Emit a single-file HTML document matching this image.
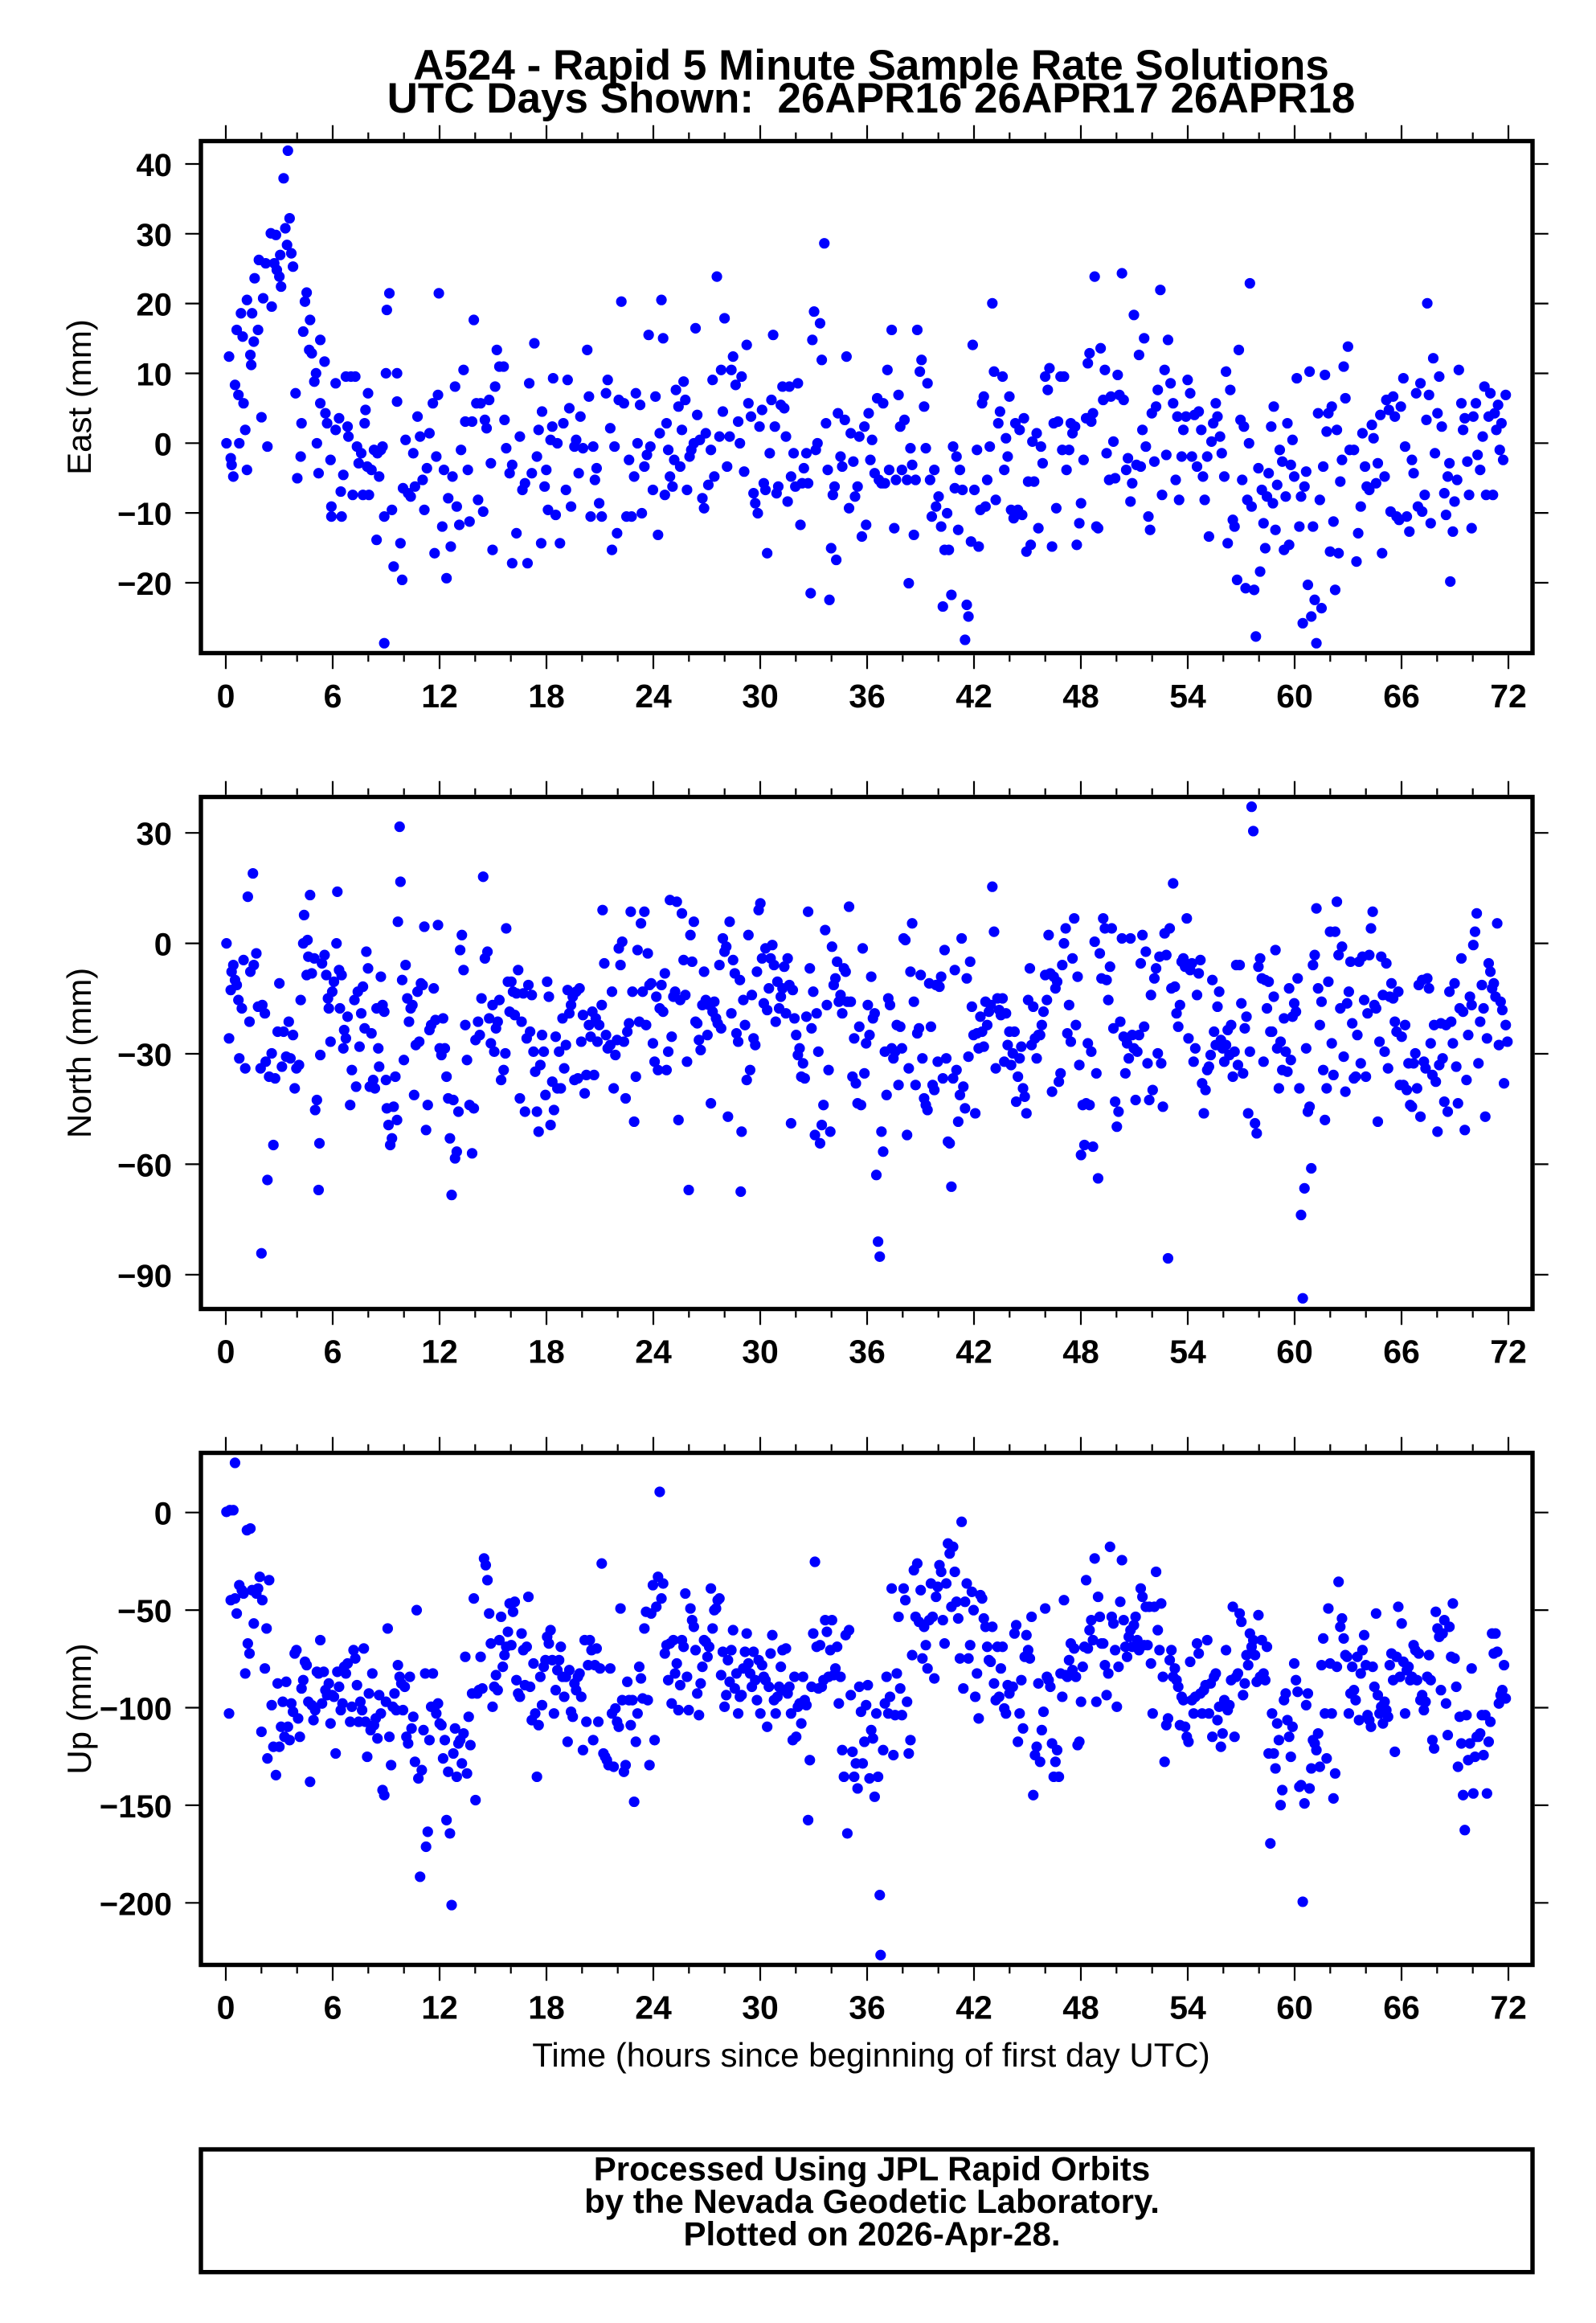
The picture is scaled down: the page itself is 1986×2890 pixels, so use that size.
<!DOCTYPE html>
<html><head><meta charset="utf-8"><style>
html,body{margin:0;padding:0;background:#fff;}
svg{display:block;}
text{font-family:"Liberation Sans",Arial,Helvetica,sans-serif;fill:#000;}
.b{font-weight:bold;}
</style></head><body>
<svg xmlns="http://www.w3.org/2000/svg" width="1986" height="2890" viewBox="0 0 1986 2890">
<rect width="1986" height="2890" fill="#fff"/>
<defs>
<path id="xt" fill="none" stroke="#000" stroke-width="2.2" d="M281 0v17M414 0v17M547 0v17M680 0v17M813 0v17M946 0v17M1079 0v17M1212 0v17M1345 0v17M1478 0v17M1611 0v17M1744 0v17M1877 0v17M325.3 0v8M369.7 0v8M458.3 0v8M502.7 0v8M591.3 0v8M635.7 0v8M724.3 0v8M768.7 0v8M857.3 0v8M901.7 0v8M990.3 0v8M1034.7 0v8M1123.3 0v8M1167.7 0v8M1256.3 0v8M1300.7 0v8M1389.3 0v8M1433.7 0v8M1522.3 0v8M1566.7 0v8M1655.3 0v8M1699.7 0v8M1788.3 0v8M1832.7 0v8"/>
</defs>

<!-- Title -->
<text class="b" x="1084" y="99" font-size="53" text-anchor="middle">A524 - Rapid 5 Minute Sample Rate Solutions</text>
<text class="b" x="1084" y="140" font-size="53" text-anchor="middle" style="white-space:pre">UTC Days Shown:  26APR16 26APR17 26APR18</text>

<!-- ===== Panel 1: East ===== -->
<path fill="none" stroke="#0000ff" stroke-width="13.2" stroke-linecap="round" vector-effect="non-scaling-stroke" transform="translate(250,170) scale(1.06123,0.41459)" d="M30 920h0M35 965h0M36 985h0M38 1020h0M33 660h0M40 745h0M44 775h0M45 920h0M50 800h0M52 880h0M54 1000h0M42 580h0M47 530h0M49 600h0M54 490h0M58 655h0M59 685h0M62 615h0M60 530h0M63 425h0M67 580h0M68 370h0M71 842h0M73 485h0M76 380h0M78 930h0M82 290h0M83 510h0M86 380h0M88 295h0M89 400h0M92 420h0M94 450h0M93 355h0M97 125h0M99 275h0M102 42h0M104 245h0M101 325h0M106 350h0M108 390h0M111 770h0M113 1025h0M117 960h0M118 860h0M120 585h0M122 495h0M124 468h0M128 550h0M127 640h0M130 650h0M133 735h0M135 710h0M136 920h0M138 1010h0M140 610h0M140 800h0M145 675h0M146 830h0M148 860h0M152 970h0M153 1110h0M153 1140h0M158 880h0M158 740h0M162 845h0M164 1065h0M165 1140h0M167 1015h0M170 720h0M172 870h0M173 900h0M176 720h0M178 1075h0M181 720h0M183 930h0M185 980h0M188 950h0M190 1075h0M192 860h0M193 820h0M195 990h0M196 770h0M197 1075h0M200 1000h0M203 940h0M206 1210h0M207 950h0M209 1020h0M211 940h0M213 930h0M215 1140h0M215 1520h0M217 710h0M218 520h0M221 470h0M224 1120h0M226 1290h0M230 710h0M230 795h0M234 1220h0M236 1330h0M237 1055h0M240 910h0M243 1070h0M246 1080h0M249 950h0M251 1050h0M254 840h0M257 900h0M260 1030h0M262 1120h0M265 995h0M268 890h0M272 800h0M274 1250h0M276 960h0M278 775h0M279 470h0M283 1170h0M285 1000h0M288 1325h0M290 1085h0M293 1230h0M295 1020h0M298 750h0M300 1110h0M303 1165h0M305 940h0M308 700h0M310 855h0M313 1000h0M315 1155h0M318 855h0M320 550h0M323 800h0M325 1090h0M328 800h0M331 1125h0M333 850h0M335 875h0M338 790h0M340 980h0M342 1240h0M345 750h0M347 640h0M350 690h0M355 690h0M356 850h0M358 935h0M362 1010h0M365 985h0M365 1280h0M370 1190h0M374 900h0M377 1060h0M380 1040h0M383 1280h0M385 740h0M388 1010h0M391 620h0M394 960h0M396 880h0M399 1220h0M400 825h0M403 1050h0M405 1000h0M407 1120h0M410 910h0M412 870h0M413 725h0M416 1135h0M418 920h0M421 1220h0M425 860h0M428 1060h0M430 730h0M432 815h0M434 1110h0M438 930h0M440 910h0M443 1010h0M445 840h0M448 935h0M453 640h0M455 780h0M457 1140h0M460 930h0M462 1030h0M464 995h0M467 1100h0M470 1140h0M475 770h0M477 730h0M480 875h0M482 1240h0M485 930h0M488 1190h0M490 790h0M493 495h0M496 800h0M499 1140h0M502 970h0M505 1140h0M508 1020h0M510 770h0M512 920h0M515 805h0M517 1130h0M520 990h0M523 955h0M525 595h0M527 930h0M530 1060h0M533 780h0M536 1195h0M538 890h0M540 490h0M542 605h0M544 1075h0M546 860h0M548 940h0M550 1020h0M553 1050h0M555 970h0M557 760h0M560 810h0M562 990h0M564 880h0M566 735h0M568 790h0M570 1060h0M573 960h0M575 940h0M578 920h0M580 575h0M582 835h0M585 910h0M588 1085h0M590 1115h0M592 890h0M595 1045h0M598 940h0M600 730h0M602 1020h0M605 420h0M608 900h0M610 700h0M612 825h0M614 545h0M617 990h0M620 900h0M622 700h0M624 660h0M627 745h0M630 855h0M632 920h0M634 720h0M637 1005h0M640 625h0M642 800h0M645 840h0M648 1070h0M650 1100h0M653 1130h0M655 870h0M658 820h0M660 1040h0M662 1060h0M664 1250h0M667 950h0M669 790h0M671 595h0M673 870h0M675 1070h0M677 1050h0M680 805h0M682 750h0M684 815h0M686 900h0M688 1095h0M690 750h0M692 1020h0M695 950h0M697 1050h0M700 740h0M703 1165h0M705 1040h0M707 995h0M710 950h0M712 1040h0M715 1370h0M717 610h0M719 525h0M721 940h0M723 920h0M726 560h0M728 670h0M731 320h0M733 860h0M735 1000h0M737 1390h0M739 1235h0M741 1075h0M743 1050h0M745 1270h0M747 830h0M750 960h0M752 990h0M755 850h0M757 660h0M760 1115h0M762 890h0M765 975h0M767 1080h0M770 1050h0M772 900h0M775 1200h0M778 870h0M780 1165h0M783 830h0M785 970h0M787 910h0M790 1010h0M793 785h0M795 1030h0M798 1040h0M800 800h0M802 1040h0M805 700h0M807 1000h0M810 580h0M813 1175h0M815 1030h0M818 775h0M820 870h0M822 1000h0M825 850h0M828 1030h0M830 1340h0M832 935h0M834 985h0M836 1195h0M838 1030h0M840 580h0M843 705h0M845 670h0M848 810h0M850 935h0M852 740h0M855 1030h0M857 1140h0M860 1000h0M862 1110h0M865 1080h0M868 1170h0M870 1410h0M872 1240h0M875 1130h0M877 1240h0M880 1375h0M882 930h0M884 1055h0M886 960h0M888 1180h0M890 1000h0M893 1060h0M896 1510h0M898 1405h0M900 1440h0M903 1215h0M905 625h0M907 1060h0M910 940h0M912 1230h0M914 1120h0M916 800h0M918 780h0M920 1110h0M922 1030h0M925 930h0M928 500h0M930 705h0M932 1090h0M935 860h0M937 825h0M940 720h0M942 1000h0M944 905h0M946 960h0M948 780h0M950 1120h0M953 1145h0M955 860h0M958 1120h0M960 880h0M963 1135h0M965 845h0M968 1245h0M970 1035h0M973 1225h0M975 915h0M977 1035h0M980 890h0M982 1175h0M985 930h0M987 980h0M990 720h0M993 760h0M995 695h0M998 1230h0M1000 860h0M1003 1115h0M1005 855h0M1008 720h0M1010 940h0M1012 720h0M1015 1000h0M1018 940h0M1020 860h0M1022 890h0M1025 870h0M1027 1225h0M1030 1160h0M1032 1100h0M1035 970h0M1038 845h0M1040 680h0M1042 650h0M1044 855h0M1046 830h0M1048 420h0M1050 1170h0M1052 1175h0M1055 635h0M1058 790h0M1060 700h0M1062 950h0M1065 1030h0M1067 780h0M1070 915h0M1072 1025h0M1075 715h0M1077 775h0M1080 410h0M1082 790h0M1085 1000h0M1087 965h0M1090 1095h0M1092 1040h0M1094 535h0M1097 985h0M1100 655h0M1102 990h0M1104 880h0M1106 605h0M1108 930h0M1111 1140h0M1113 1180h0M1115 830h0M1118 975h0M1120 810h0M1122 760h0M1125 460h0M1127 1075h0M1130 700h0M1132 955h0M1134 610h0M1137 740h0M1140 800h0M1143 1030h0M1145 840h0M1147 1090h0M1150 960h0M1152 880h0M1155 840h0M1157 730h0M1160 770h0M1162 960h0M1165 835h0M1168 990h0M1170 825h0M1173 880h0M1175 1020h0M1177 1090h0M1180 960h0M1182 1200h0M1185 915h0M1187 860h0M1190 800h0M1192 840h0M1195 900h0M1197 950h0M1200 1020h0M1202 705h0M1204 1220h0M1207 760h0M1210 1150h0M1212 1170h0M1215 1330h0M1217 640h0M1219 850h0M1221 1030h0M1223 870h0M1225 1355h0M1227 1090h0M1229 920h0M1230 440h0M1232 1110h0M1235 1360h0M1237 1500h0M1240 995h0M1242 1305h0M1244 1060h0M1246 1160h0M1248 1235h0M1250 1080h0M1252 1010h0M1255 870h0M1257 1100h0M1258 810h0M1260 1180h0M1262 1045h0M1265 940h0M1268 975h0M1270 1240h0M1272 1080h0M1274 860h0M1276 1225h0M1278 985h0M1280 910h0M1282 1020h0M1285 725h0M1288 1170h0M1290 1080h0M1292 1460h0M1294 1050h0M1296 1005h0M1298 1345h0M1300 705h0M1302 1440h0M1304 1170h0M1306 1390h0M1308 1520h0M1310 830h0M1312 1090h0M1314 1415h0M1316 990h0M1318 715h0M1320 885h0M1322 830h0M1324 1245h0M1326 810h0M1328 1155h0M1330 1360h0M1332 880h0M1334 1250h0M1336 1035h0M1338 970h0M1340 690h0M1342 785h0M1345 630h0M1347 940h0M1352 940h0M1355 1275h0M1357 1190h0M1360 1110h0M1362 890h0M1365 990h0M1367 1050h0M1370 1060h0M1373 865h0M1375 905h0M1378 1040h0M1380 980h0M1383 835h0M1385 1250h0M1388 1020h0M1390 790h0M1393 820h0M1395 1125h0M1398 780h0M1400 840h0M1402 1140h0M1405 1150h0M1407 810h0M1410 725h0M1412 930h0M1414 1140h0M1417 1185h0M1420 970h0M1422 1010h0M1425 770h0M1427 1110h0M1430 740h0M1432 1125h0M1435 1075h0M1437 850h0M1438 500h0M1440 775h0M1442 1160h0M1445 665h0M1447 950h0M1450 830h0M1452 720h0M1455 870h0M1458 1070h0M1460 1135h0M1462 1020h0M1464 980h0M1465 1335h0M1468 1185h0M1470 1095h0M1473 1030h0M1475 700h0M1478 800h0M1480 880h0M1482 845h0M1485 975h0M1487 1075h0M1490 1175h0M1492 840h0M1495 800h0M1497 955h0M1500 1000h0M1503 900h0M1505 750h0M1507 1075h0M1510 840h0M1512 770h0M1515 1075h0M1517 830h0M1519 880h0M1521 805h0M1523 940h0M1525 860h0M1527 970h0M1530 775h0"/>
<rect x="250" y="175.5" width="1657" height="637" fill="none" stroke="#000" stroke-width="5.4"/>
<use href="#xt" transform="translate(0,815.2)"/>
<use href="#xt" transform="translate(0,172.8) scale(1,-1)"/>
<path fill="none" stroke="#000" stroke-width="2.2" d="M230.5 725h17M1909.7 725h17M230.5 638.1h17M1909.7 638.1h17M230.5 551.3h17M1909.7 551.3h17M230.5 464.5h17M1909.7 464.5h17M230.5 377.6h17M1909.7 377.6h17M230.5 290.8h17M1909.7 290.8h17M230.5 204h17M1909.7 204h17"/>
<g class="b" font-size="40" text-anchor="end">
<text class="b" x="214" y="740">−20</text>
<text class="b" x="214" y="653.1">−10</text>
<text class="b" x="214" y="566.3">0</text>
<text class="b" x="214" y="479.5">10</text>
<text class="b" x="214" y="392.6">20</text>
<text class="b" x="214" y="305.8">30</text>
<text class="b" x="214" y="219">40</text>
</g>
<g font-size="41" text-anchor="middle">
<text class="b" x="281" y="880">0</text><text class="b" x="414" y="880">6</text><text class="b" x="547" y="880">12</text><text class="b" x="680" y="880">18</text><text class="b" x="813" y="880">24</text><text class="b" x="946" y="880">30</text><text class="b" x="1079" y="880">36</text><text class="b" x="1212" y="880">42</text><text class="b" x="1345" y="880">48</text><text class="b" x="1478" y="880">54</text><text class="b" x="1611" y="880">60</text><text class="b" x="1744" y="880">66</text><text class="b" x="1877" y="880">72</text>
</g>
<text transform="translate(113,494) rotate(-90)" font-size="42" text-anchor="middle">East (mm)</text>

<!-- ===== Panel 2: North ===== -->
<path fill="none" stroke="#0000ff" stroke-width="13.2" stroke-linecap="round" vector-effect="non-scaling-stroke" transform="translate(250,985) scale(1.06123,0.41459)" d="M30 455h0M33 740h0M35 595h0M36 540h0M38 520h0M40 565h0M42 580h0M44 625h0M45 800h0M48 650h0M50 505h0M52 830h0M55 315h0M57 690h0M58 540h0M61 245h0M62 520h0M65 485h0M67 645h0M70 830h0M71 1385h0M72 640h0M75 665h0M76 810h0M78 1165h0M80 855h0M83 785h0M85 1060h0M87 860h0M90 720h0M92 575h0M95 825h0M97 720h0M100 795h0M103 690h0M105 800h0M108 730h0M110 890h0M112 830h0M115 820h0M117 625h0M120 455h0M121 370h0M124 550h0M125 445h0M126 495h0M128 310h0M130 545h0M133 500h0M134 955h0M136 925h0M138 1195h0M139 1055h0M140 790h0M142 515h0M145 490h0M147 550h0M149 620h0M150 650h0M152 750h0M154 600h0M156 570h0M160 300h0M159 455h0M162 535h0M163 650h0M165 550h0M167 770h0M168 715h0M170 740h0M172 675h0M175 940h0M177 835h0M180 625h0M182 885h0M184 600h0M186 765h0M188 665h0M190 585h0M192 710h0M194 480h0M196 530h0M198 885h0M200 725h0M202 865h0M204 890h0M206 650h0M208 770h0M209 825h0M211 555h0M213 640h0M215 660h0M217 865h0M218 950h0M220 1000h0M222 1060h0M224 1040h0M226 945h0M228 855h0M230 985h0M231 390h0M233 105h0M234 270h0M236 565h0M238 805h0M240 520h0M242 620h0M244 690h0M246 650h0M248 640h0M250 910h0M252 760h0M254 600h0M256 750h0M258 575h0M260 580h0M262 405h0M264 1015h0M266 940h0M268 715h0M270 700h0M273 590h0M275 685h0M278 400h0M280 770h0M282 790h0M284 680h0M286 770h0M288 855h0M290 920h0M292 1040h0M294 1210h0M296 925h0M298 1100h0M300 1080h0M302 960h0M304 475h0M306 430h0M308 535h0M310 700h0M312 805h0M315 940h0M318 1085h0M320 950h0M322 745h0M325 690h0M327 730h0M329 620h0M331 255h0M333 500h0M336 480h0M338 680h0M340 755h0M342 640h0M344 780h0M346 710h0M348 690h0M350 625h0M352 865h0M355 835h0M357 785h0M358 410h0M360 570h0M362 660h0M364 570h0M366 600h0M368 670h0M370 605h0M372 535h0M374 920h0M376 690h0M378 605h0M380 960h0M382 740h0M384 580h0M386 720h0M388 610h0M390 780h0M392 840h0M394 960h0M396 1020h0M398 820h0M400 730h0M402 780h0M404 910h0M406 570h0M408 615h0M410 1000h0M412 870h0M414 955h0M416 735h0M418 890h0M420 780h0M422 890h0M424 680h0M426 830h0M428 760h0M430 595h0M432 665h0M434 640h0M436 615h0M438 865h0M440 600h0M442 860h0M444 590h0M446 750h0M448 670h0M450 905h0M452 850h0M455 700h0M457 735h0M459 660h0M461 850h0M463 680h0M465 750h0M467 700h0M470 640h0M471 355h0M473 515h0M475 730h0M477 770h0M480 760h0M482 600h0M484 890h0M486 790h0M488 745h0M490 470h0M492 520h0M494 450h0M496 750h0M498 920h0M500 720h0M502 695h0M504 360h0M506 600h0M508 990h0M510 855h0M512 475h0M514 690h0M516 395h0M518 600h0M520 360h0M522 700h0M524 485h0M526 580h0M528 575h0M530 755h0M532 810h0M534 615h0M536 835h0M538 650h0M540 580h0M542 660h0M544 545h0M546 835h0M548 780h0M550 325h0M552 735h0M554 615h0M556 600h0M558 330h0M560 985h0M562 625h0M564 365h0M566 505h0M568 610h0M570 810h0M572 1195h0M574 430h0M576 510h0M578 390h0M580 690h0M582 695h0M584 745h0M586 775h0M588 640h0M590 540h0M592 625h0M594 730h0M596 640h0M598 935h0M600 660h0M602 630h0M604 680h0M606 695h0M608 520h0M610 710h0M612 440h0M614 480h0M616 465h0M618 975h0M620 390h0M622 665h0M624 505h0M626 545h0M628 725h0M630 750h0M632 565h0M633 1200h0M634 1020h0M636 625h0M638 700h0M640 865h0M642 430h0M644 835h0M646 610h0M648 740h0M650 760h0M652 540h0M654 355h0M656 335h0M658 500h0M660 635h0M662 470h0M664 655h0M666 590h0M668 500h0M670 460h0M672 520h0M674 690h0M676 570h0M678 650h0M680 615h0M682 590h0M684 525h0M686 665h0M688 500h0M690 580h0M692 995h0M694 595h0M696 680h0M698 730h0M700 790h0M702 770h0M704 855h0M706 815h0M708 860h0M710 675h0M712 360h0M714 530h0M716 710h0M718 600h0M720 1030h0M722 665h0M724 780h0M726 1055h0M728 1000h0M730 940h0M732 415h0M734 640h0M736 835h0M738 1020h0M740 465h0M742 580h0M744 560h0M746 510h0M748 630h0M750 610h0M752 665h0M754 530h0M756 540h0M758 630h0M760 345h0M762 630h0M764 855h0M766 740h0M768 875h0M770 935h0M772 705h0M774 940h0M776 470h0M778 845h0M780 755h0M782 640h0M784 730h0M786 555h0M788 680h0M790 665h0M792 1150h0M794 1350h0M796 1395h0M798 1020h0M800 1080h0M802 780h0M804 910h0M806 620h0M808 640h0M810 770h0M812 800h0M814 780h0M816 700h0M818 880h0M820 705h0M822 770h0M824 440h0M826 445h0M828 1030h0M830 830h0M832 540h0M834 395h0M836 630h0M838 880h0M840 725h0M842 710h0M844 550h0M846 800h0M848 920h0M850 940h0M852 955h0M854 575h0M856 705h0M858 880h0M860 895h0M862 580h0M864 810h0M866 585h0M868 555h0M870 860h0M872 475h0M874 800h0M876 1050h0M878 1055h0M880 1185h0M882 860h0M884 535h0M886 835h0M888 990h0M890 910h0M892 440h0M894 885h0M896 950h0M898 560h0M900 795h0M902 510h0M904 645h0M906 730h0M908 965h0M910 725h0M912 770h0M914 675h0M916 720h0M918 765h0M920 630h0M922 700h0M924 660h0M926 640h0M928 285h0M930 420h0M932 830h0M934 620h0M936 655h0M938 670h0M940 620h0M942 810h0M944 665h0M946 760h0M948 720h0M950 820h0M952 785h0M954 720h0M956 930h0M958 855h0M960 800h0M962 765h0M964 890h0M966 915h0M968 965h0M970 625h0M972 530h0M974 760h0M976 645h0M978 740h0M980 800h0M982 730h0M984 730h0M986 700h0M988 660h0M990 550h0M992 625h0M994 430h0M996 545h0M998 900h0M1000 555h0M1002 590h0M1004 570h0M1006 870h0M1008 845h0M1010 520h0M1012 455h0M1014 410h0M1016 725h0M1018 640h0M1020 750h0M1022 500h0M1024 380h0M1026 700h0M1028 555h0M1030 820h0M1032 1090h0M1034 940h0M1036 1060h0M1038 935h0M1040 755h0M1042 940h0M1044 780h0M1046 1065h0M1048 450h0M1050 845h0M1052 1160h0M1054 485h0M1056 560h0M1058 380h0M1060 410h0M1062 565h0M1064 625h0M1066 525h0M1068 410h0M1070 710h0M1072 930h0M1074 1005h0M1076 960h0M1078 690h0M1080 440h0M1082 735h0M1084 845h0M1086 755h0M1088 800h0M1090 440h0M1092 730h0M1094 770h0M1096 925h0M1098 780h0M1100 730h0M1102 515h0M1104 430h0M1106 705h0M1108 480h0M1110 815h0M1112 925h0M1114 610h0M1116 895h0M1118 560h0M1120 530h0M1122 785h0M1124 495h0M1126 815h0M1128 945h0M1130 425h0M1132 490h0M1134 1400h0M1136 410h0M1138 590h0M1140 275h0M1142 585h0M1144 665h0M1146 705h0M1148 640h0M1150 510h0M1152 500h0M1154 525h0M1156 380h0M1158 740h0M1160 535h0M1162 515h0M1164 810h0M1166 770h0M1168 610h0M1170 545h0M1172 505h0M1174 875h0M1176 965h0M1178 895h0M1180 835h0M1182 825h0M1184 790h0M1186 565h0M1188 720h0M1190 760h0M1192 645h0M1194 600h0M1196 745h0M1198 770h0M1200 810h0M1202 760h0M1204 715h0M1206 790h0M1208 700h0M1210 855h0M1212 780h0M1214 520h0M1216 820h0M1218 520h0M1220 635h0M1222 845h0M1224 710h0M1226 675h0M1228 965h0M1230 780h0M1232 45h0M1234 118h0M1236 995h0M1238 1025h0M1240 525h0M1242 500h0M1244 560h0M1246 810h0M1248 565h0M1250 650h0M1252 570h0M1254 720h0M1256 720h0M1258 615h0M1260 475h0M1262 770h0M1264 890h0M1266 750h0M1268 835h0M1270 680h0M1272 780h0M1274 840h0M1276 590h0M1278 805h0M1280 675h0M1282 635h0M1284 660h0M1286 560h0M1288 890h0M1290 1270h0M1292 1520h0M1294 1190h0M1296 770h0M1298 960h0M1300 945h0M1302 1130h0M1304 520h0M1306 490h0M1308 350h0M1310 590h0M1312 700h0M1314 630h0M1316 835h0M1318 985h0M1320 890h0M1322 570h0M1324 420h0M1326 755h0M1328 850h0M1330 420h0M1332 330h0M1334 490h0M1336 650h0M1338 465h0M1340 795h0M1342 900h0M1344 635h0M1346 600h0M1348 510h0M1350 695h0M1352 860h0M1354 855h0M1356 730h0M1358 510h0M1360 815h0M1362 495h0M1364 625h0M1366 855h0M1368 665h0M1370 490h0M1372 410h0M1374 360h0M1376 640h0M1378 650h0M1380 990h0M1382 750h0M1384 495h0M1386 610h0M1388 780h0M1390 515h0M1392 830h0M1394 615h0M1396 575h0M1398 620h0M1400 690h0M1402 720h0M1404 600h0M1406 880h0M1408 735h0M1410 880h0M1412 700h0M1414 895h0M1416 815h0M1418 940h0M1420 945h0M1422 815h0M1424 785h0M1426 890h0M1428 580h0M1430 975h0M1432 565h0M1434 810h0M1436 830h0M1438 560h0M1440 590h0M1442 755h0M1444 850h0M1446 700h0M1448 870h0M1450 1020h0M1452 820h0M1454 695h0M1456 800h0M1458 930h0M1460 700h0M1462 960h0M1464 600h0M1466 690h0M1468 755h0M1470 575h0M1472 825h0M1474 935h0M1476 650h0M1478 500h0M1480 660h0M1482 1015h0M1484 865h0M1486 730h0M1488 615h0M1490 640h0M1492 460h0M1494 420h0M1496 365h0M1498 815h0M1500 690h0M1502 580h0M1504 650h0M1506 975h0M1508 740h0M1510 515h0M1512 540h0M1514 590h0M1516 575h0M1518 615h0M1520 395h0M1522 760h0M1524 630h0M1526 655h0M1528 875h0M1530 700h0M1532 750h0"/>
<rect x="250" y="991.5" width="1657" height="637" fill="none" stroke="#000" stroke-width="5.4"/>
<use href="#xt" transform="translate(0,1631.2)"/>
<use href="#xt" transform="translate(0,988.8) scale(1,-1)"/>
<path fill="none" stroke="#000" stroke-width="2.2" d="M230.5 1585.8h17M1909.7 1585.8h17M230.5 1448.4h17M1909.7 1448.4h17M230.5 1311h17M1909.7 1311h17M230.5 1173.6h17M1909.7 1173.6h17M230.5 1036.2h17M1909.7 1036.2h17"/>
<g font-size="40" text-anchor="end">
<text class="b" x="214" y="1600.8">−90</text>
<text class="b" x="214" y="1463.4">−60</text>
<text class="b" x="214" y="1326">−30</text>
<text class="b" x="214" y="1188.6">0</text>
<text class="b" x="214" y="1051.2">30</text>
</g>
<g font-size="41" text-anchor="middle">
<text class="b" x="281" y="1695.5">0</text><text class="b" x="414" y="1695.5">6</text><text class="b" x="547" y="1695.5">12</text><text class="b" x="680" y="1695.5">18</text><text class="b" x="813" y="1695.5">24</text><text class="b" x="946" y="1695.5">30</text><text class="b" x="1079" y="1695.5">36</text><text class="b" x="1212" y="1695.5">42</text><text class="b" x="1345" y="1695.5">48</text><text class="b" x="1478" y="1695.5">54</text><text class="b" x="1611" y="1695.5">60</text><text class="b" x="1744" y="1695.5">66</text><text class="b" x="1877" y="1695.5">72</text>
</g>
<text transform="translate(113,1310) rotate(-90)" font-size="42" text-anchor="middle">North (mm)</text>

<!-- ===== Panel 3: Up ===== -->
<path fill="none" stroke="#0000ff" stroke-width="13.2" stroke-linecap="round" vector-effect="non-scaling-stroke" transform="translate(250,1800) scale(1.06123,0.41459)" d="M30 195h0M34 190h0M38 190h0M40 48h0M33 800h0M35 460h0M40 455h0M42 500h0M45 415h0M48 430h0M50 440h0M54 250h0M58 245h0M55 590h0M57 620h0M60 430h0M62 530h0M65 440h0M67 425h0M69 390h0M71 855h0M52 680h0M72 460h0M75 665h0M77 545h0M78 935h0M80 400h0M83 775h0M85 900h0M88 985h0M90 710h0M92 900h0M94 840h0M96 765h0M98 870h0M100 705h0M102 840h0M104 880h0M106 770h0M108 795h0M110 620h0M112 610h0M114 815h0M116 870h0M118 725h0M120 700h0M122 645h0M124 655h0M126 765h0M128 1005h0M130 775h0M132 820h0M134 790h0M136 675h0M138 680h0M140 580h0M142 770h0M144 675h0M146 730h0M148 745h0M150 710h0M152 830h0M154 745h0M156 750h0M158 920h0M160 675h0M162 720h0M164 790h0M166 770h0M168 660h0M170 680h0M172 650h0M175 825h0M177 780h0M179 610h0M181 635h0M183 715h0M185 825h0M187 765h0M189 790h0M191 605h0M193 825h0M195 930h0M197 740h0M199 850h0M201 680h0M203 835h0M205 815h0M207 875h0M209 745h0M211 800h0M213 1030h0M215 1045h0M217 765h0M219 545h0M221 870h0M223 955h0M225 780h0M227 740h0M229 790h0M231 655h0M233 690h0M235 710h0M237 790h0M239 720h0M241 870h0M243 890h0M245 690h0M247 845h0M249 810h0M251 945h0M253 490h0M255 995h0M257 1290h0M259 970h0M261 850h0M263 680h0M264 1200h0M266 1155h0M268 880h0M270 780h0M272 680h0M274 780h0M276 800h0M278 770h0M280 830h0M282 835h0M284 935h0M286 880h0M288 1120h0M290 975h0M292 1160h0M294 1375h0M296 920h0M298 845h0M300 990h0M302 890h0M304 880h0M306 950h0M308 860h0M310 630h0M312 980h0M314 810h0M316 895h0M318 740h0M320 455h0M322 1060h0M324 740h0M326 730h0M328 630h0M330 725h0M332 335h0M334 355h0M336 400h0M338 500h0M340 590h0M342 780h0M344 720h0M346 685h0M348 730h0M350 580h0M352 510h0M354 660h0M356 625h0M358 600h0M360 555h0M362 470h0M364 595h0M366 495h0M368 465h0M370 700h0M372 740h0M374 750h0M376 560h0M378 610h0M380 715h0M382 600h0M384 450h0M386 720h0M388 820h0M390 650h0M392 800h0M394 990h0M396 835h0M398 690h0M400 775h0M402 660h0M404 640h0M406 570h0M408 590h0M410 550h0M412 640h0M414 800h0M416 730h0M418 670h0M420 640h0M422 600h0M424 690h0M426 750h0M428 690h0M430 885h0M432 670h0M434 795h0M436 810h0M438 710h0M440 730h0M442 690h0M444 680h0M446 750h0M448 910h0M450 580h0M452 825h0M454 655h0M456 580h0M458 610h0M460 880h0M462 655h0M464 605h0M466 825h0M468 665h0M470 350h0M472 920h0M474 930h0M476 940h0M478 955h0M480 665h0M482 800h0M484 960h0M486 785h0M488 825h0M490 840h0M492 485h0M494 760h0M496 975h0M498 955h0M500 705h0M502 760h0M504 835h0M506 760h0M508 1065h0M510 885h0M512 800h0M514 660h0M516 695h0M518 755h0M520 545h0M522 495h0M524 760h0M526 955h0M528 500h0M530 415h0M532 880h0M534 480h0M536 390h0M538 135h0M540 455h0M542 410h0M544 620h0M546 595h0M548 700h0M550 590h0M552 770h0M554 580h0M556 680h0M558 650h0M560 790h0M562 715h0M564 580h0M566 600h0M568 440h0M570 690h0M572 790h0M574 485h0M576 520h0M578 540h0M580 610h0M582 740h0M584 805h0M586 710h0M588 660h0M590 580h0M592 585h0M594 630h0M596 600h0M598 425h0M600 545h0M602 490h0M604 485h0M606 460h0M608 455h0M610 685h0M612 615h0M614 780h0M616 745h0M618 640h0M620 705h0M622 610h0M624 550h0M626 725h0M628 680h0M630 800h0M632 750h0M634 745h0M636 665h0M638 615h0M640 560h0M642 650h0M644 680h0M646 720h0M648 615h0M650 700h0M652 760h0M654 640h0M656 800h0M658 655h0M660 690h0M662 700h0M664 840h0M666 720h0M668 620h0M670 565h0M672 760h0M674 800h0M676 750h0M678 720h0M680 660h0M682 610h0M684 730h0M686 605h0M688 740h0M690 720h0M692 800h0M694 880h0M696 690h0M698 870h0M700 780h0M702 770h0M704 830h0M706 690h0M708 760h0M710 775h0M712 1120h0M714 940h0M716 720h0M718 560h0M720 345h0M722 600h0M724 725h0M726 595h0M728 720h0M730 700h0M732 520h0M734 555h0M736 690h0M738 610h0M740 520h0M742 685h0M744 665h0M746 600h0M748 770h0M750 690h0M752 910h0M754 990h0M756 565h0M758 1160h0M760 550h0M762 745h0M764 915h0M766 990h0M768 950h0M770 1025h0M772 720h0M774 795h0M776 950h0M778 885h0M780 775h0M782 715h0M784 995h0M786 850h0M788 875h0M790 1050h0M792 800h0M794 990h0M796 1345h0M797 1525h0M800 910h0M802 770h0M804 690h0M806 800h0M808 750h0M810 425h0M812 925h0M814 805h0M816 680h0M818 510h0M820 725h0M822 805h0M824 425h0M826 460h0M828 765h0M830 920h0M832 880h0M834 625h0M836 370h0M838 510h0M840 350h0M842 525h0M844 430h0M846 635h0M848 540h0M850 595h0M852 665h0M854 520h0M856 410h0M858 510h0M860 695h0M862 450h0M864 420h0M866 355h0M868 375h0M870 520h0M872 590h0M874 410h0M876 290h0M878 320h0M880 480h0M882 300h0M884 375h0M886 465h0M888 515h0M890 635h0M892 225h0M894 725h0M896 465h0M898 410h0M900 635h0M902 595h0M904 435h0M906 490h0M908 750h0M910 680h0M912 815h0M914 445h0M916 455h0M918 515h0M920 540h0M922 600h0M924 640h0M926 645h0M928 540h0M930 710h0M932 760h0M934 600h0M936 750h0M938 665h0M940 600h0M942 785h0M944 800h0M946 715h0M948 740h0M950 720h0M952 720h0M954 560h0M956 535h0M958 885h0M960 800h0M962 700h0M964 845h0M966 630h0M968 565h0M970 610h0M972 635h0M974 510h0M976 1045h0M978 925h0M980 900h0M982 710h0M984 945h0M986 850h0M988 795h0M990 485h0M992 690h0M994 700h0M996 720h0M998 890h0M1000 990h0M1002 945h0M1004 910h0M1006 990h0M1008 680h0M1010 750h0M1012 460h0M1014 685h0M1016 690h0M1018 640h0M1020 590h0M1022 670h0M1024 605h0M1026 690h0M1028 895h0M1030 885h0M1032 765h0M1034 660h0M1036 600h0M1038 400h0M1040 605h0M1042 550h0M1044 520h0M1046 580h0M1048 335h0M1050 765h0M1052 450h0M1054 510h0M1056 590h0M1058 590h0M1060 655h0M1062 745h0M1064 680h0M1066 300h0M1068 510h0M1070 530h0M1072 610h0M1074 780h0M1076 660h0M1078 465h0M1080 340h0M1082 520h0M1084 600h0M1086 630h0M1088 570h0M1090 550h0M1092 600h0M1094 535h0M1096 510h0M1098 580h0M1100 610h0M1102 425h0M1104 450h0M1106 595h0M1108 480h0M1110 595h0M1112 480h0M1114 650h0M1116 800h0M1118 480h0M1120 375h0M1122 550h0M1124 610h0M1126 470h0M1128 690h0M1130 945h0M1132 835h0M1134 815h0M1136 640h0M1138 610h0M1140 690h0M1142 665h0M1144 700h0M1146 720h0M1148 835h0M1150 750h0M1152 760h0M1154 840h0M1156 870h0M1158 885h0M1160 645h0M1162 760h0M1164 800h0M1166 750h0M1168 590h0M1170 620h0M1172 740h0M1174 800h0M1176 730h0M1178 715h0M1180 580h0M1182 800h0M1184 710h0M1186 870h0M1188 690h0M1190 680h0M1192 820h0M1194 780h0M1196 900h0M1198 860h0M1200 760h0M1202 610h0M1204 790h0M1206 775h0M1208 700h0M1210 480h0M1212 870h0M1214 690h0M1216 680h0M1218 500h0M1220 525h0M1222 745h0M1224 710h0M1226 625h0M1228 655h0M1230 560h0M1232 600h0M1234 580h0M1236 625h0M1238 705h0M1240 505h0M1242 690h0M1244 580h0M1246 680h0M1248 700h0M1250 600h0M1252 920h0M1254 1190h0M1256 800h0M1258 920h0M1260 965h0M1262 830h0M1264 880h0M1266 1075h0M1268 1030h0M1270 760h0M1272 740h0M1274 820h0M1276 870h0M1278 930h0M1280 840h0M1282 650h0M1284 700h0M1286 735h0M1288 1020h0M1290 1015h0M1292 1365h0M1294 1070h0M1296 775h0M1298 740h0M1300 1025h0M1302 965h0M1304 880h0M1306 890h0M1308 910h0M1310 860h0M1312 960h0M1314 655h0M1316 575h0M1318 800h0M1320 935h0M1322 485h0M1324 650h0M1326 800h0M1328 1055h0M1330 980h0M1332 660h0M1334 405h0M1336 540h0M1338 515h0M1340 575h0M1342 625h0M1344 630h0M1346 800h0M1348 740h0M1350 660h0M1352 730h0M1354 760h0M1356 630h0M1358 820h0M1360 680h0M1362 610h0M1364 565h0M1366 655h0M1368 805h0M1370 820h0M1372 840h0M1374 660h0M1376 720h0M1378 500h0M1380 745h0M1382 800h0M1384 780h0M1386 830h0M1388 765h0M1390 790h0M1392 810h0M1394 655h0M1396 620h0M1398 700h0M1400 915h0M1402 630h0M1404 480h0M1406 690h0M1408 530h0M1410 645h0M1412 800h0M1414 670h0M1416 660h0M1418 700h0M1420 690h0M1422 595h0M1424 610h0M1426 700h0M1428 620h0M1430 760h0M1432 745h0M1434 790h0M1436 765h0M1438 690h0M1440 625h0M1442 700h0M1444 880h0M1446 905h0M1448 495h0M1450 545h0M1452 570h0M1454 730h0M1456 560h0M1458 520h0M1460 770h0M1462 865h0M1464 540h0M1466 630h0M1468 470h0M1470 635h0M1472 720h0M1474 960h0M1476 810h0M1478 890h0M1480 1045h0M1482 1150h0M1484 805h0M1486 940h0M1488 890h0M1490 665h0M1492 1040h0M1494 930h0M1496 870h0M1498 870h0M1500 860h0M1502 805h0M1504 925h0M1506 805h0M1508 1040h0M1510 885h0M1512 825h0M1514 560h0M1516 620h0M1518 560h0M1520 615h0M1522 770h0M1524 745h0M1526 730h0M1528 655h0M1530 755h0"/>
<rect x="250" y="1807.5" width="1657" height="637" fill="none" stroke="#000" stroke-width="5.4"/>
<use href="#xt" transform="translate(0,2447.2)"/>
<use href="#xt" transform="translate(0,1804.8) scale(1,-1)"/>
<path fill="none" stroke="#000" stroke-width="2.2" d="M230.5 1881.7h17M1909.7 1881.7h17M230.5 2003.1h17M1909.7 2003.1h17M230.5 2124.5h17M1909.7 2124.5h17M230.5 2245.9h17M1909.7 2245.9h17M230.5 2367.3h17M1909.7 2367.3h17"/>
<g font-size="40" text-anchor="end">
<text class="b" x="214" y="1896.7">0</text>
<text class="b" x="214" y="2018.1">−50</text>
<text class="b" x="214" y="2139.5">−100</text>
<text class="b" x="214" y="2260.9">−150</text>
<text class="b" x="214" y="2382.3">−200</text>
</g>
<g font-size="41" text-anchor="middle">
<text class="b" x="281" y="2511.5">0</text><text class="b" x="414" y="2511.5">6</text><text class="b" x="547" y="2511.5">12</text><text class="b" x="680" y="2511.5">18</text><text class="b" x="813" y="2511.5">24</text><text class="b" x="946" y="2511.5">30</text><text class="b" x="1079" y="2511.5">36</text><text class="b" x="1212" y="2511.5">42</text><text class="b" x="1345" y="2511.5">48</text><text class="b" x="1478" y="2511.5">54</text><text class="b" x="1611" y="2511.5">60</text><text class="b" x="1744" y="2511.5">66</text><text class="b" x="1877" y="2511.5">72</text>
</g>
<text transform="translate(113,2126) rotate(-90)" font-size="42" text-anchor="middle">Up (mm)</text>

<text x="1084" y="2571" font-size="42" text-anchor="middle">Time (hours since beginning of first day UTC)</text>

<!-- Footer -->
<rect x="250" y="2674" width="1657" height="152.7" fill="none" stroke="#000" stroke-width="5.4"/>
<text class="b" x="1085" y="2712.7" font-size="42" text-anchor="middle">Processed Using JPL Rapid Orbits</text>
<text class="b" x="1085" y="2753" font-size="42" text-anchor="middle">by the Nevada Geodetic Laboratory.</text>
<text class="b" x="1085" y="2793.3" font-size="42" text-anchor="middle">Plotted on 2026-Apr-28.</text>
</svg>
</body></html>
